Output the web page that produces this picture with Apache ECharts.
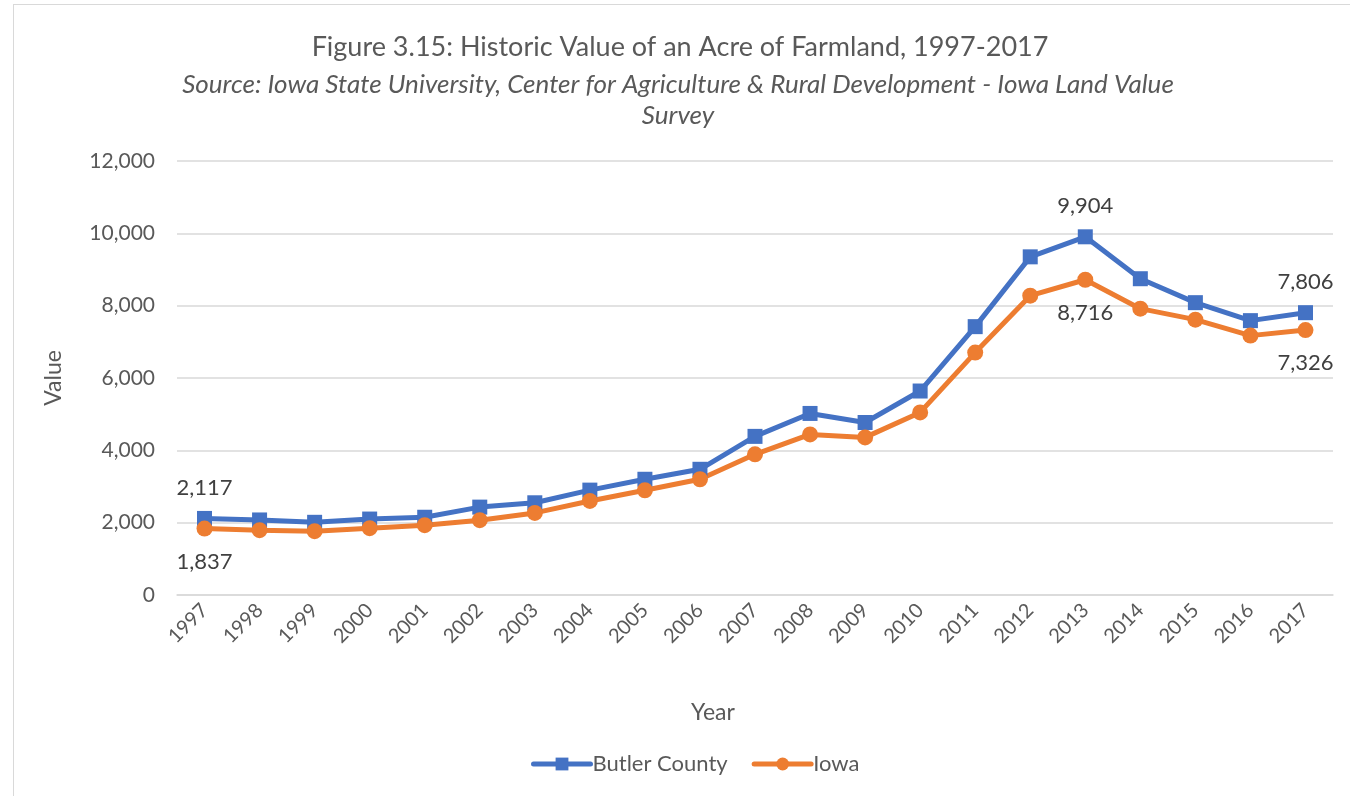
<!DOCTYPE html>
<html>
<head>
<meta charset="utf-8">
<script src="https://cdn.jsdelivr.net/npm/echarts@6/dist/echarts.min.js"></script>
<style>
	html, body { margin: 0; padding: 0; background: #fff; overflow: hidden; }
	#frame { position: absolute; left: 13px; top: 4px; width: 1400px; height: 900px; border: 1.5px solid #d9d9d9; }
	#chart { position: absolute; left: 0; top: 0; width: 1350px; height: 796px; }
</style>
</head>
<body>
<div id="frame"></div>
<div id="chart"></div>
<script>
const years = ['1997', '1998', '1999', '2000', '2001', '2002', '2003', '2004', '2005', '2006', '2007',
	'2008', '2009', '2010', '2011', '2012', '2013', '2014', '2015', '2016', '2017']
const butler = [2117, 2075, 2010, 2100, 2150, 2430, 2550, 2900, 3200, 3476, 4386,
	5020, 4770, 5640, 7420, 9350, 9904, 8745, 8083, 7586, 7806]
const iowa = [1837, 1793, 1765, 1848, 1931, 2069, 2270, 2600, 2897, 3200, 3890,
	4441, 4358, 5048, 6703, 8276, 8716, 7917, 7614, 7172, 7326]
// only these points carry a data label
const labelled = [0, 16, 20]

const font = 'Lato, "Open Sans", sans-serif'
const grey = '#595959'

const withLabels = (vals, pos) => vals.map((v, i) => labelled.includes(i)
	? { value: v, label: { show: true, position: pos } }
	: v)

const chart = echarts.init(document.getElementById('chart'))
chart.setOption({
	animation: false,
	textStyle: { fontFamily: font },
	title: [
		{
			text: 'Figure 3.15: Historic Value of an Acre of Farmland, 1997-2017',
			left: 675, top: 29, textAlign: 'center',
			textStyle: { fontFamily: font, fontSize: 27, fontWeight: 'normal', color: grey },
		},
		{
			text: 'Source: Iowa State University, Center for Agriculture & Rural Development - Iowa Land Value\nSurvey',
			left: 673, top: 64, textAlign: 'center',
			textStyle: { fontFamily: font, fontSize: 26, fontStyle: 'italic', fontWeight: 'normal', color: grey, lineHeight: 31, align: 'center' },
		},
	],
	legend: {
		top: 748, left: 526,
		itemWidth: 57, itemHeight: 16, itemGap: 24,
		lineStyle: { width: 5, cap: 'round' },
		textStyle: { fontFamily: font, fontSize: 22, color: grey, padding: [0, 0, 0, -3] },
		data: ['Butler County', 'Iowa'],
	},
	grid: { left: 177, right: 17, top: 161, bottom: 201 },
	xAxis: {
		type: 'category', data: years,
		name: 'Year', nameLocation: 'middle', nameGap: 106,
		nameTextStyle: { fontFamily: font, fontSize: 23, color: grey, padding: [0, 84, 0, 0] },
		axisLine: { show: true, lineStyle: { color: '#d9d9d9', width: 1.5 } },
		axisTick: { show: false },
		axisLabel: { rotate: 45, interval: 0, margin: 12, fontSize: 20, color: grey, fontFamily: font },
	},
	yAxis: {
		type: 'value', min: 0, max: 12000, interval: 2000,
		name: 'Value', nameLocation: 'middle', nameGap: 112, nameRotate: 90,
		nameTextStyle: { fontFamily: font, fontSize: 23, color: grey },
		axisLabel: {
			fontSize: 21, color: grey, margin: 22, fontFamily: font,
			formatter: v => v.toLocaleString('en-US'),
		},
		splitLine: { lineStyle: { color: '#d9d9d9', width: 1.5 } },
	},
	series: [
		{
			name: 'Butler County', type: 'line',
			data: withLabels(butler, 'top'),
			symbol: 'rect', symbolSize: 15,
			lineStyle: { width: 5, color: '#4472C4' },
			itemStyle: { color: '#4472C4' },
			label: { show: false, distance: 12, fontSize: 22, color: '#404040', fontFamily: font,
				formatter: p => p.value.toLocaleString('en-US') },
		},
		{
			name: 'Iowa', type: 'line',
			data: withLabels(iowa, 'bottom'),
			symbol: 'circle', symbolSize: 16,
			lineStyle: { width: 5, color: '#ED7D31' },
			itemStyle: { color: '#ED7D31' },
			label: { show: false, distance: 14, fontSize: 22, color: '#404040', fontFamily: font,
				formatter: p => p.value.toLocaleString('en-US') },
		},
	],
})
</script>
</body>
</html>
